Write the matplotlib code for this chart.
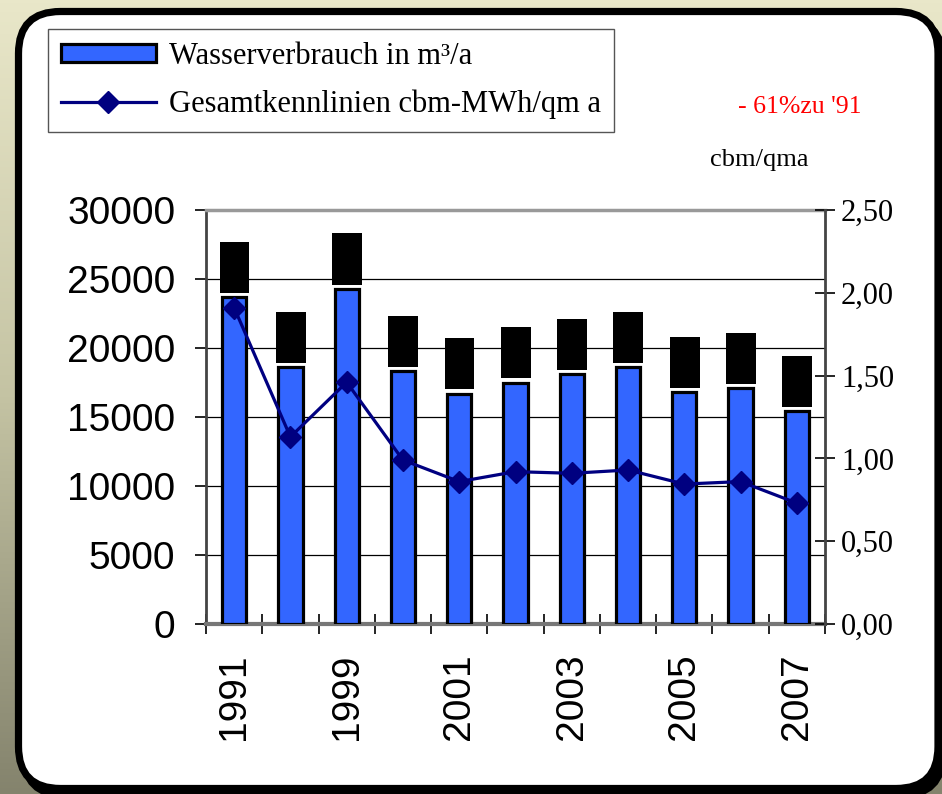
import numpy as np
import matplotlib
matplotlib.use("Agg")
import matplotlib.pyplot as plt
from matplotlib.patches import FancyBboxPatch, Rectangle, Patch
from matplotlib.lines import Line2D
from matplotlib.ticker import FuncFormatter
from matplotlib.colors import LinearSegmentedColormap

# ---- data ----
years = ["1991", "1998", "1999", "2000", "2001", "2002", "2003", "2004", "2005", "2006", "2007"]
water_m3 = [23700, 18600, 24300, 18300, 16700, 17500, 18100, 18600, 16800, 17100, 15400]
kennlinie = [1.91, 1.13, 1.46, 0.99, 0.86, 0.92, 0.91, 0.93, 0.845, 0.86, 0.73]
left_ticks = [0, 5000, 10000, 15000, 20000, 25000, 30000]
right_ticks = [0.0, 0.5, 1.0, 1.5, 2.0, 2.5]
label_bar = "Wasserverbrauch in m³/a"
label_line = "Gesamtkennlinien cbm-MWh/qm a"
note_red = "- 61%zu '91"
right_unit = "cbm/qma"

W, H = 942, 794
fig = plt.figure(figsize=(W / 100, H / 100), dpi=100)

# ---- background ----
bg = fig.add_axes([0, 0, 1, 1], zorder=-10)
bg.set_xlim(0, W)
bg.set_ylim(H, 0)
bg.axis("off")
cmap = LinearSegmentedColormap.from_list("bg", ["#e9e7c9", "#c4c3a3", "#84836d"])
grad = np.linspace(0, 1, 256).reshape(-1, 1)
bg.imshow(grad, cmap=cmap, extent=[0, W, H, 0], aspect="auto")
x0, y0, x1, y1 = 18.5, 11.5, 938, 788.5
bg.add_patch(FancyBboxPatch((x0 + 5, y0 + 7), x1 - x0, y1 - y0,
                            boxstyle="round,pad=0,rounding_size=42",
                            facecolor="black", edgecolor="black", lw=5))
bg.add_patch(FancyBboxPatch((x0, y0), x1 - x0, y1 - y0,
                            boxstyle="round,pad=0,rounding_size=42",
                            facecolor="white", edgecolor="black", lw=5.2))

serif = ["Liberation Serif", "DejaVu Serif"]
sans = ["Liberation Sans", "DejaVu Sans"]

# ---- main axes ----
ax = fig.add_axes([206 / W, 1 - 624 / H, (825 - 206) / W, (624 - 210) / H])
ax.set_facecolor("none")
x = np.arange(len(years))
bars = ax.bar(x, water_m3, width=0.43, color="#3366ff", edgecolor="black",
              linewidth=2.3, zorder=3)
# redacted data labels (black boxes above bars)
for xi, v in zip(x, water_m3):
    ax.add_patch(Rectangle((xi - 0.26, v + 300), 0.53, 3700, facecolor="black",
                           edgecolor="none", zorder=4))

ax.set_xlim(-0.5, len(years) - 0.5)
ax.set_ylim(0, 30000)
ax.set_yticks(left_ticks)
ax.set_yticklabels([str(t) for t in left_ticks], fontfamily=sans, fontsize=28)
ax.tick_params(axis="y", direction="out", length=8, width=1.2, pad=14, colors="black")
ax.set_axisbelow(True)
ax.grid(axis="y", color="black", linewidth=0.9, zorder=0)

ax.set_xticks(x)
ax.set_xticklabels([y if i % 2 == 0 else "" for i, y in enumerate(years)],
                   rotation=90, fontfamily=sans, fontsize=28)
ax.tick_params(axis="x", which="major", length=0, pad=21)
ax.set_xticks(np.arange(-0.5, len(years)), minor=True)
ax.tick_params(axis="x", which="minor", direction="inout", length=15, width=1.2)

ax.spines["left"].set_color("#444444")
ax.spines["left"].set_linewidth(2)
ax.spines["bottom"].set_color("#777777")
ax.spines["bottom"].set_linewidth(3)
ax.spines["top"].set_color("#999999")
ax.spines["top"].set_linewidth(2.5)
ax.spines["right"].set_visible(False)

# ---- secondary axis ----
ax2 = ax.twinx()
ax2.plot(x, kennlinie, color="#000080", lw=2.3, marker="D", markersize=11,
         markerfacecolor="#000080", markeredgecolor="#000080", zorder=5)
ax2.set_ylim(0, 2.5)
ax2.set_yticks(right_ticks)
ax2.yaxis.set_major_formatter(FuncFormatter(lambda v, p: f"{v:.2f}".replace(".", ",")))
for lab in ax2.get_yticklabels():
    lab.set_fontfamily(serif)
ax2.tick_params(axis="y", direction="inout", length=15, width=1.2, pad=4, labelsize=22)
for s in ["left", "top", "bottom"]:
    ax2.spines[s].set_visible(False)
ax2.spines["right"].set_color("#444444")
ax2.spines["right"].set_linewidth(2)

# ---- legend ----
handles = [Patch(facecolor="#3366ff", edgecolor="black", linewidth=2.3),
           Line2D([0], [0], color="#000080", lw=2.3, marker="D", markersize=11)]
leg = fig.legend(handles, [label_bar, label_line], loc="upper left",
                 bbox_to_anchor=(48 / W, 1 - 29 / H), bbox_transform=fig.transFigure,
                 prop={"family": serif, "size": 22}, frameon=True, fancybox=False,
                 edgecolor="#555555", framealpha=1, borderaxespad=0,
                 handlelength=3.1, handleheight=0.55, handletextpad=0.45,
                 borderpad=0.42, labelspacing=0.6)
leg.get_frame().set_linewidth(1.0)

# ---- annotations ----
fig.text(738 / W, 1 - 107 / H, note_red, color="red", fontfamily=serif,
         fontsize=18.5, va="center", ha="left")
fig.text(710 / W, 1 - 160 / H, right_unit, color="black", fontfamily=serif,
         fontsize=19, va="center", ha="left")

fig.savefig("out.png", dpi=100)
